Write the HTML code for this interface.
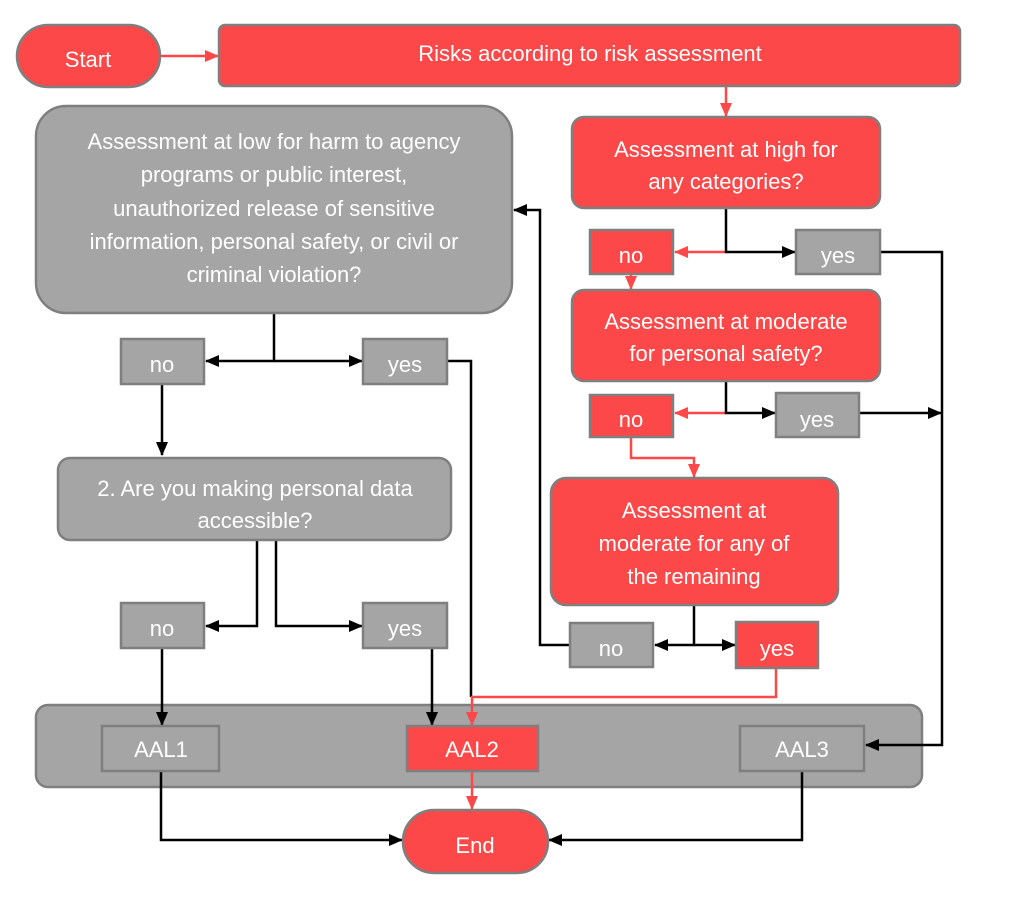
<!DOCTYPE html>
<html><head><meta charset="utf-8"><style>
html,body{margin:0;padding:0;background:#fff;}
svg{display:block}
text{font-family:"Liberation Sans",sans-serif;fill:#fff;font-size:22px;text-anchor:middle}
.r{fill:#fc4848;stroke:#7f7f7f;stroke-width:2.5}
.g{fill:#a5a5a5;stroke:#7f7f7f;stroke-width:2.5}
.k{fill:none;stroke:#000;stroke-width:2.5}
.rl{fill:none;stroke:#fc4848;stroke-width:2.5}
</style></head><body>
<svg width="1012" height="913" viewBox="0 0 1012 913">
<defs>
<marker id="ak" markerWidth="14" markerHeight="12" refX="13" refY="6" orient="auto" markerUnits="userSpaceOnUse" viewBox="0 0 14 12"><path d="M0,0L14,6L0,12z" fill="#000"/></marker>
<marker id="ar" markerWidth="14" markerHeight="12" refX="13" refY="6" orient="auto" markerUnits="userSpaceOnUse" viewBox="0 0 14 12"><path d="M0,0L14,6L0,12z" fill="#fc4848"/></marker>
</defs>
<path class="rl" d="M160,56H218" marker-end="url(#ar)"/>
<path class="rl" d="M726,86V116" marker-end="url(#ar)"/>
<path class="rl" d="M726,252H675" marker-end="url(#ar)"/>
<path class="k" d="M726,208V252H795" marker-end="url(#ak)"/>
<path class="rl" d="M631,274V289" marker-end="url(#ar)"/>
<path class="rl" d="M726,413H675" marker-end="url(#ar)"/>
<path class="k" d="M726,381V413H775" marker-end="url(#ak)"/>
<path class="k" d="M859,413H941" marker-end="url(#ak)"/>
<path class="rl" d="M631,437V458H694V477" marker-end="url(#ar)"/>
<path class="k" d="M694,605V645H655" marker-end="url(#ak)"/>
<path class="k" d="M694,645H735" marker-end="url(#ak)"/>
<path class="k" d="M570,645H540V210H514" marker-end="url(#ak)"/>
<path class="k" d="M274,313V361H206" marker-end="url(#ak)"/>
<path class="k" d="M274,361H362" marker-end="url(#ak)"/>
<path class="k" d="M447,361H471V697"/>
<path class="k" d="M162,384V455" marker-end="url(#ak)"/>
<path class="k" d="M257,540V626H206" marker-end="url(#ak)"/>
<path class="k" d="M276,540V626H362" marker-end="url(#ak)"/>
<rect class="g" x="36" y="705" width="886" height="82" rx="12"/>
<path class="k" d="M880,252H942V745H866" marker-end="url(#ak)"/>
<path class="k" d="M162,648V725" marker-end="url(#ak)"/>
<path class="k" d="M432,648V725" marker-end="url(#ak)"/>
<path class="rl" d="M776,668V697H472V725" marker-end="url(#ar)"/>
<path class="rl" d="M472,771V809" marker-end="url(#ar)"/>
<path class="k" d="M161,771V840H402" marker-end="url(#ak)"/>
<path class="k" d="M802,771V840H549" marker-end="url(#ak)"/>
<rect class="r" x="17" y="25" width="143" height="62" rx="31"/><text x="88" y="67">Start</text>
<rect class="r" x="219" y="25" width="741" height="61" rx="6"/><text x="590" y="61">Risks according to risk assessment</text>
<rect class="r" x="572" y="117" width="308" height="91" rx="12"/>
<text x="726" y="157">Assessment at high for</text><text x="726" y="189">any categories?</text>
<rect class="g" x="36" y="106" width="476" height="207" rx="30"/>
<text x="274" y="149">Assessment at low for harm to agency</text>
<text x="274" y="182">programs or public interest,</text>
<text x="274" y="216">unauthorized release of sensitive</text>
<text x="274" y="249">information, personal safety, or civil or</text>
<text x="274" y="282">criminal violation?</text>
<rect class="r" x="590" y="230" width="83" height="44"/><text x="631" y="263">no</text>
<rect class="g" x="796" y="230" width="84" height="44"/><text x="838" y="263">yes</text>
<rect class="r" x="572" y="290" width="308" height="91" rx="12"/>
<text x="726" y="329">Assessment at moderate</text><text x="726" y="361">for personal safety?</text>
<rect class="r" x="590" y="395" width="83" height="42"/><text x="631" y="427">no</text>
<rect class="g" x="776" y="393" width="83" height="44"/><text x="817" y="427">yes</text>
<rect class="r" x="551" y="478" width="287" height="127" rx="15"/>
<text x="694" y="518">Assessment at</text><text x="694" y="551">moderate for any of</text><text x="694" y="584">the remaining</text>
<rect class="g" x="570" y="623" width="83" height="44"/><text x="611" y="656">no</text>
<rect class="r" x="736" y="622" width="82" height="46"/><text x="777" y="656">yes</text>
<rect class="g" x="121" y="339" width="83" height="45"/><text x="162" y="372">no</text>
<rect class="g" x="363" y="339" width="84" height="45"/><text x="405" y="372">yes</text>
<rect class="g" x="58" y="458" width="393" height="82" rx="12"/>
<text x="255" y="496">2. Are you making personal data</text><text x="255" y="528">accessible?</text>
<rect class="g" x="121" y="603" width="83" height="45"/><text x="162" y="636">no</text>
<rect class="g" x="363" y="603" width="84" height="45"/><text x="405" y="636">yes</text>
<rect class="g" x="102" y="726" width="117" height="45"/><text x="161" y="757">AAL1</text>
<rect class="r" x="407" y="726" width="131" height="45"/><text x="472" y="757">AAL2</text>
<rect class="g" x="740" y="726" width="124" height="45"/><text x="802" y="757">AAL3</text>
<rect class="r" x="403" y="810" width="145" height="63" rx="31"/><text x="475" y="853">End</text>
</svg>
</body></html>
